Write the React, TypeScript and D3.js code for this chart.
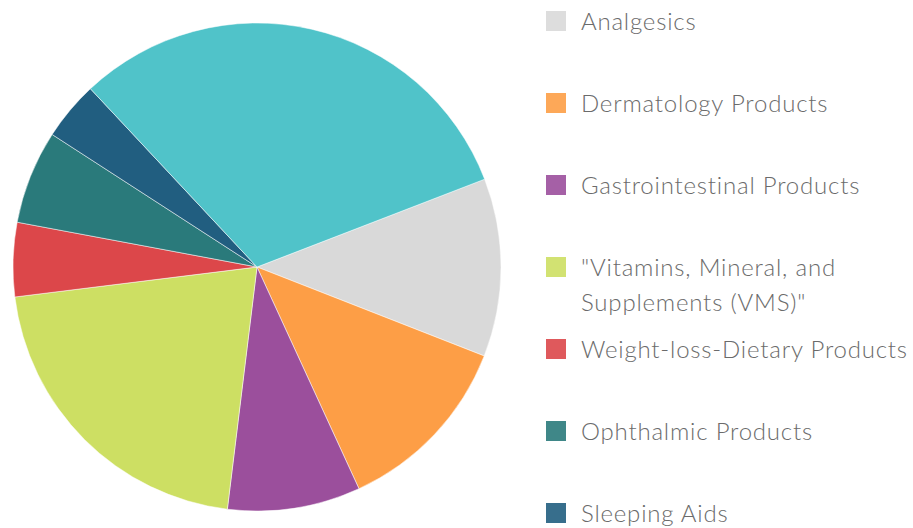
import React, { useEffect, useRef } from "react";
import * as d3 from "d3";

const categories = [
  "Analgesics",
  "Dermatology Products",
  "Gastrointestinal Products",
  "\"Vitamins, Mineral, and Supplements (VMS)\"",
  "Weight-loss-Dietary Products",
  "Ophthalmic Products",
  "Sleeping Aids",
  "Cough, Cold and Allergy Products",
];
const shares = [11.8, 12.2, 8.8, 21.1, 4.9, 6.2, 3.9, 31.1];
const colors = ["#d9d9d9", "#fd9e46", "#9b4f9c", "#cddf63", "#dc474a", "#2a7a7b", "#215e80", "#50c3c9"];

const width = 913;
const height = 528;

// break long legend labels into lines of at most n characters
function wrap(s: string, n: number) {
  const words = s.split(" ");
  const lines: string[] = [];
  let cur = "";
  words.forEach((w) => {
    if (cur && (cur + " " + w).length > n) {
      lines.push(cur);
      cur = w;
    } else cur = cur ? cur + " " + w : w;
  });
  if (cur) lines.push(cur);
  return lines;
}

export default function App() {
  const ref = useRef<SVGSVGElement>(null);

  useEffect(() => {
    const svg = d3.select(ref.current);
    svg.selectAll("*").remove();

    const cx = 257, cy = 267, r = 244;
    const start = (68.9 * Math.PI) / 180;
    const pie = d3.pie<number>().sort(null).value((d) => d).startAngle(start).endAngle(start + 2 * Math.PI);
    const arc = d3.arc<d3.PieArcDatum<number>>().innerRadius(0).outerRadius(r);
    const color = d3.scaleOrdinal<number, string>().domain(d3.range(categories.length)).range(colors);

    svg.append("g")
      .attr("transform", `translate(${cx},${cy})`)
      .selectAll("path")
      .data(pie(shares))
      .join("path")
      .attr("d", arc)
      .attr("fill", (d, i) => color(i))
      .attr("stroke", "#ffffff")
      .attr("stroke-width", 0.5);

    const y = d3.scaleLinear().domain([0, 1]).range([21, 103]);
    const legend = svg.append("g")
      .selectAll("g")
      .data(categories)
      .join("g")
      .attr("transform", (d, i) => `translate(546,${y(i)})`);

    legend.append("rect")
      .attr("x", 0)
      .attr("y", -10)
      .attr("width", 20)
      .attr("height", 20)
      .attr("fill", (d, i) => color(i))
      .attr("opacity", 0.9);

    legend.append("text")
      .attr("x", 35)
      .attr("y", 9)
      .attr("font-family", "Lato")
      .attr("font-weight", 300)
      .attr("font-size", 24)
      .attr("letter-spacing", 0.8)
      .attr("fill", "#6b6b6b")
      .selectAll("tspan")
      .data((d) => wrap(d, 30))
      .join("tspan")
      .attr("x", 35)
      .attr("dy", (d, i) => (i === 0 ? 0 : 34.5))
      .text((d) => d);
  }, []);

  return <svg ref={ref} width={width} height={height} style={{ position: "absolute", left: 0, top: 0 }} />;
}
